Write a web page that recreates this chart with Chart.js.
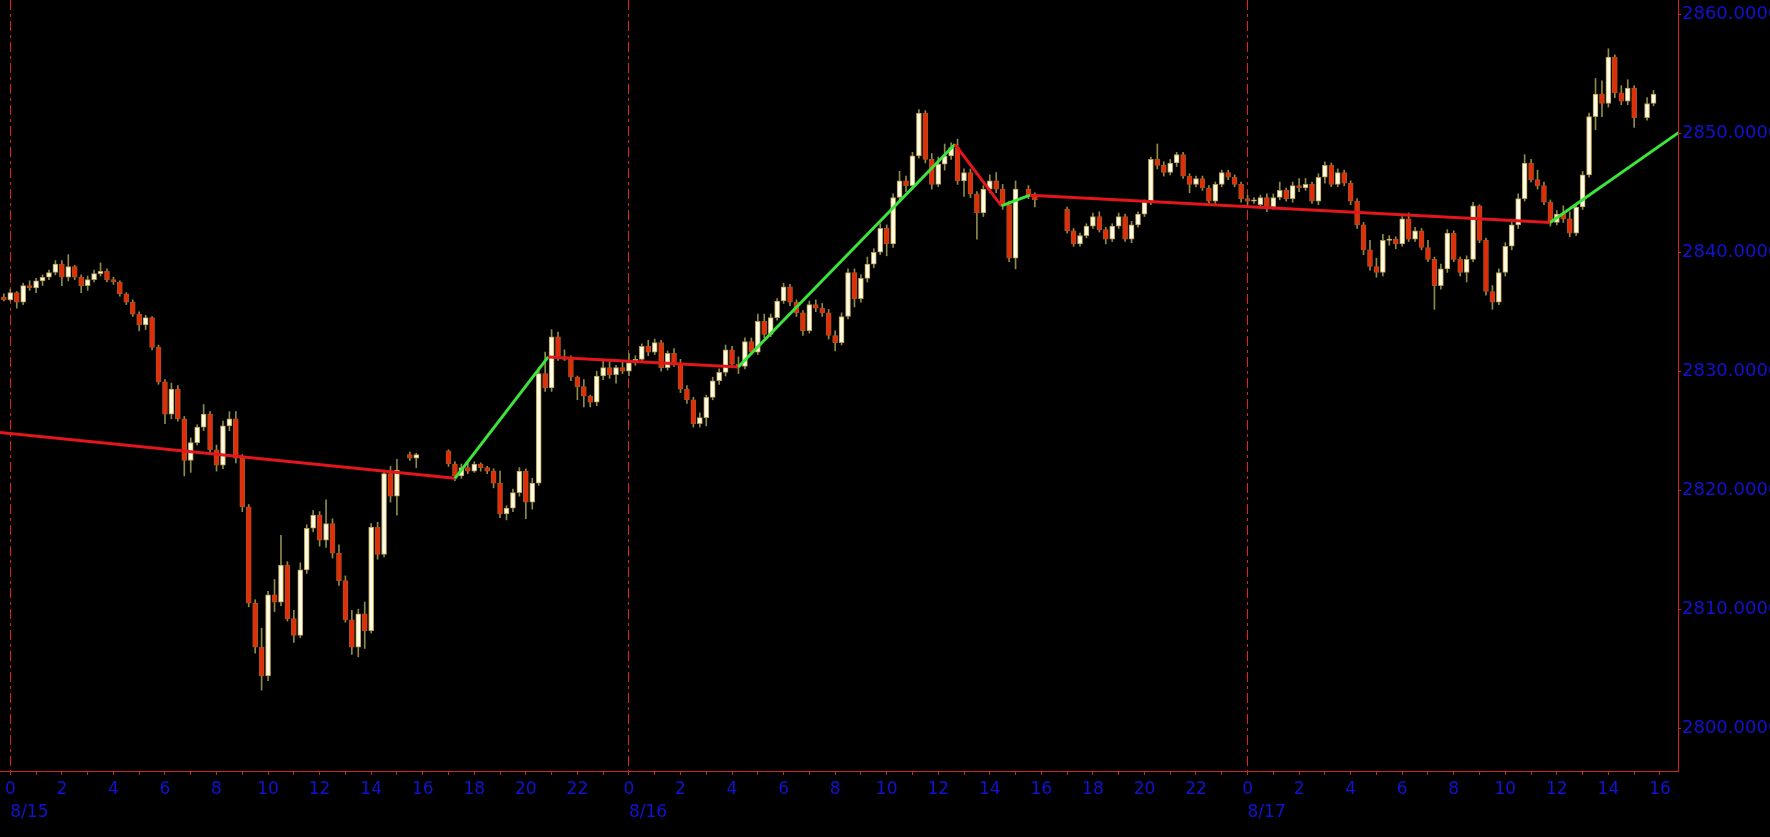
<!DOCTYPE html>
<html>
<head>
<meta charset="utf-8">
<title>Price 8/15 - 8/17</title>
<script src="https://cdn.jsdelivr.net/npm/chart.js@4.4.1/dist/chart.umd.min.js"></script>
<style>
    html, body { margin: 0; padding: 0; background: #000; }
    #wrap { width: 1770px; height: 837px; position: relative; }
</style>
</head>
<body>
<div id="wrap"><canvas id="priceChart"></canvas></div>
<script>
// Bars are 15 minutes, each row [open, high, low, close]
// Session starts are hours counted from 8/15 00:00
const sessionStarts = [-0.5, 15.5, 17, 39.5, 41, 63.5];

const aug15Bars = [
    [2836.0, 2836.4, 2835.8, 2836.2], [2836.2, 2836.5, 2835.9, 2836.0],
    // 0:00
    [2836.0, 2836.9, 2835.9, 2836.6], [2836.6, 2836.7, 2835.3, 2835.8], [2835.8, 2837.4, 2835.6, 2837.2], [2837.2, 2837.6, 2836.8, 2837.0],
    [2837.0, 2837.8, 2836.6, 2837.6], [2837.6, 2838.1, 2837.2, 2837.9], [2837.9, 2838.5, 2837.7, 2838.3], [2838.3, 2839.3, 2838.1, 2839.0],
    // 2:00
    [2839.0, 2839.3, 2837.2, 2837.9], [2837.9, 2839.8, 2837.6, 2838.8], [2838.8, 2838.9, 2837.7, 2837.9], [2837.9, 2838.1, 2836.6, 2837.2],
    [2837.2, 2838.0, 2836.8, 2837.7], [2837.7, 2838.5, 2837.5, 2838.2], [2838.2, 2839.1, 2838.0, 2838.4], [2838.4, 2838.6, 2837.5, 2837.7],
    // 4:00
    [2837.7, 2837.9, 2837.3, 2837.5], [2837.5, 2837.6, 2836.3, 2836.5], [2836.5, 2836.6, 2835.6, 2835.8], [2835.8, 2836.0, 2834.6, 2834.8],
    [2834.8, 2835.0, 2833.4, 2833.9], [2833.9, 2834.7, 2833.5, 2834.5], [2834.5, 2834.6, 2831.8, 2832.0], [2832.0, 2832.2, 2828.9, 2829.1],
    // 6:00
    [2829.1, 2829.3, 2825.6, 2826.4], [2826.4, 2829.0, 2826.0, 2828.5], [2828.5, 2828.8, 2825.8, 2826.0], [2826.0, 2826.2, 2821.2, 2822.5],
    [2822.5, 2824.4, 2821.5, 2824.0], [2824.0, 2825.5, 2823.8, 2825.3], [2825.3, 2827.2, 2825.0, 2826.4], [2826.4, 2826.6, 2823.0, 2823.4],
    // 8:00
    [2823.4, 2823.8, 2821.6, 2822.1], [2822.1, 2825.8, 2821.8, 2825.4], [2825.4, 2826.6, 2825.0, 2826.0], [2826.0, 2826.6, 2822.3, 2822.7],
    [2822.7, 2823.0, 2818.2, 2818.6], [2818.6, 2818.8, 2810.2, 2810.5], [2810.5, 2810.8, 2806.3, 2806.8], [2806.8, 2808.4, 2803.2, 2804.4],
    // 10:00
    [2804.4, 2811.5, 2804.0, 2811.2], [2811.2, 2812.5, 2809.8, 2810.6], [2810.6, 2816.2, 2810.3, 2813.7], [2813.7, 2814.0, 2809.0, 2809.2],
    [2809.2, 2809.9, 2807.2, 2807.8], [2807.8, 2813.9, 2807.6, 2813.3], [2813.3, 2817.1, 2813.0, 2816.8], [2816.8, 2818.3, 2816.5, 2817.9],
    // 12:00
    [2817.9, 2818.2, 2815.3, 2815.8], [2815.8, 2819.2, 2815.2, 2817.2], [2817.2, 2817.6, 2814.3, 2814.7], [2814.7, 2815.4, 2812.0, 2812.4],
    [2812.4, 2812.8, 2808.9, 2809.1], [2809.1, 2809.9, 2806.2, 2806.8], [2806.8, 2810.0, 2806.0, 2809.6], [2809.6, 2810.6, 2806.7, 2808.2],
    // 14:00
    [2808.2, 2817.2, 2808.0, 2816.9], [2816.9, 2817.3, 2814.2, 2814.6], [2814.6, 2821.7, 2814.4, 2821.4], [2821.4, 2822.0, 2819.0, 2819.5],
    [2819.5, 2822.6, 2817.9, 2821.7]
];
const aug15Late = [
    [2823.0, 2823.2, 2822.5, 2822.7], [2822.7, 2823.1, 2821.9, 2823.0]
];

const aug16Bars = [
    // 8/15 17:00
    [2823.3, 2823.4, 2822.0, 2822.2], [2822.2, 2822.4, 2820.8, 2821.2], [2821.2, 2822.2, 2821.0, 2821.9], [2821.9, 2822.3, 2821.4, 2821.6],
    [2821.6, 2822.4, 2821.5, 2822.2], [2822.2, 2822.3, 2821.6, 2821.9], [2821.9, 2822.0, 2821.4, 2821.6], [2821.6, 2821.8, 2820.2, 2820.6],
    // 19:00
    [2820.6, 2821.6, 2817.7, 2818.0], [2818.0, 2818.7, 2817.5, 2818.5], [2818.5, 2820.1, 2818.2, 2819.8], [2819.8, 2821.9, 2819.5, 2821.6],
    [2821.6, 2821.8, 2817.6, 2819.0], [2819.0, 2821.0, 2818.4, 2820.6], [2820.6, 2830.3, 2820.4, 2829.8], [2829.8, 2831.6, 2828.3, 2828.6],
    // 21:00
    [2828.6, 2833.5, 2828.3, 2832.9], [2832.9, 2833.3, 2830.9, 2831.2], [2831.2, 2831.8, 2830.9, 2831.0], [2831.0, 2831.3, 2829.2, 2829.5],
    [2829.5, 2829.6, 2827.6, 2828.7], [2828.7, 2829.3, 2827.0, 2827.9], [2827.9, 2828.0, 2827.0, 2827.4], [2827.4, 2830.0, 2827.1, 2829.6],
    // 23:00
    [2829.6, 2831.0, 2829.3, 2830.3], [2830.3, 2830.8, 2829.4, 2829.7], [2829.7, 2830.5, 2829.0, 2830.3], [2830.3, 2830.8, 2829.8, 2830.0],
    [2830.0, 2831.5, 2829.6, 2830.7], [2830.7, 2831.3, 2830.5, 2831.0], [2831.0, 2832.3, 2830.9, 2832.1], [2832.1, 2832.6, 2831.3, 2831.6],
    // 8/16 1:00
    [2831.6, 2832.7, 2831.4, 2832.4], [2832.4, 2832.6, 2830.0, 2830.3], [2830.3, 2831.7, 2830.1, 2831.5], [2831.5, 2831.9, 2830.4, 2830.6],
    [2830.6, 2831.0, 2828.2, 2828.5], [2828.5, 2828.8, 2827.3, 2827.6], [2827.6, 2827.8, 2825.3, 2825.6], [2825.6, 2826.5, 2825.3, 2826.1],
    // 3:00
    [2826.1, 2828.0, 2825.4, 2827.8], [2827.8, 2829.5, 2827.6, 2829.2], [2829.2, 2830.2, 2828.9, 2829.9], [2829.9, 2832.2, 2829.6, 2831.8],
    [2831.8, 2832.1, 2830.4, 2830.6], [2830.6, 2831.2, 2829.8, 2830.4], [2830.4, 2832.8, 2830.2, 2832.5], [2832.5, 2832.8, 2831.4, 2831.6],
    // 5:00
    [2831.6, 2834.8, 2831.4, 2834.2], [2834.2, 2834.8, 2832.8, 2833.1], [2833.1, 2834.8, 2832.9, 2834.5], [2834.5, 2836.1, 2834.3, 2835.9],
    [2835.9, 2837.4, 2835.7, 2837.1], [2837.1, 2837.3, 2835.5, 2835.8], [2835.8, 2836.0, 2834.6, 2834.9], [2834.9, 2835.1, 2833.0, 2833.4],
    // 7:00
    [2833.4, 2835.9, 2833.2, 2835.6], [2835.6, 2836.0, 2835.0, 2835.3], [2835.3, 2835.7, 2834.6, 2834.9], [2834.9, 2835.2, 2832.7, 2833.0],
    [2833.0, 2833.4, 2831.7, 2832.4], [2832.4, 2834.9, 2832.2, 2834.6], [2834.6, 2838.6, 2834.4, 2838.3], [2838.3, 2838.6, 2835.4, 2836.1],
    // 9:00
    [2836.1, 2838.1, 2835.8, 2837.8], [2837.8, 2839.6, 2837.5, 2839.0], [2839.0, 2840.3, 2838.7, 2840.0], [2840.0, 2842.4, 2839.8, 2842.0],
    [2842.0, 2842.3, 2839.7, 2840.7], [2840.7, 2844.9, 2840.4, 2844.6], [2844.6, 2846.8, 2844.3, 2846.0], [2846.0, 2846.4, 2845.1, 2845.6],
    // 11:00
    [2845.6, 2848.4, 2845.3, 2848.1], [2848.1, 2852.0, 2847.9, 2851.7], [2851.7, 2851.9, 2847.5, 2847.8], [2847.8, 2848.3, 2845.3, 2845.7],
    [2845.7, 2848.0, 2845.5, 2847.4], [2847.4, 2849.1, 2846.9, 2848.1], [2848.1, 2849.2, 2847.8, 2848.8], [2848.8, 2849.5, 2845.7, 2846.0],
    // 13:00
    [2846.0, 2847.0, 2844.7, 2846.7], [2846.7, 2847.0, 2844.6, 2844.9], [2844.9, 2845.1, 2841.1, 2843.3], [2843.3, 2845.6, 2843.0, 2845.3],
    [2845.3, 2846.5, 2845.0, 2846.0], [2846.0, 2846.7, 2845.0, 2845.3], [2845.3, 2845.7, 2843.6, 2844.0], [2844.0, 2844.3, 2839.2, 2839.5],
    // 15:00
    [2839.5, 2846.0, 2838.6, 2845.3]
];
const aug16Late = [
    [2845.3, 2845.6, 2844.5, 2844.8], [2844.8, 2845.0, 2843.8, 2844.4]
];

const aug17Bars = [
    // 8/16 17:00
    [2843.6, 2843.8, 2841.6, 2841.8], [2841.8, 2842.0, 2840.5, 2840.7], [2840.7, 2841.6, 2840.5, 2841.4], [2841.4, 2842.4, 2841.2, 2842.2],
    [2842.2, 2843.3, 2842.0, 2843.0], [2843.0, 2843.4, 2841.7, 2841.9], [2841.9, 2842.1, 2840.7, 2841.1], [2841.1, 2842.4, 2840.9, 2842.2],
    // 19:00
    [2842.2, 2843.3, 2842.0, 2843.0], [2843.0, 2843.2, 2840.9, 2841.1], [2841.1, 2842.6, 2840.8, 2842.3], [2842.3, 2843.4, 2842.1, 2843.2],
    [2843.2, 2844.4, 2843.0, 2844.2], [2844.2, 2848.0, 2844.0, 2847.8], [2847.8, 2849.1, 2847.0, 2847.3], [2847.3, 2847.6, 2846.4, 2846.7],
    // 21:00
    [2846.7, 2847.8, 2846.5, 2847.5], [2847.5, 2848.4, 2847.2, 2848.2], [2848.2, 2848.4, 2846.2, 2846.4], [2846.4, 2846.6, 2845.0, 2845.7],
    [2845.7, 2846.4, 2845.5, 2846.2], [2846.2, 2846.4, 2845.2, 2845.4], [2845.4, 2845.6, 2844.0, 2844.3], [2844.3, 2845.9, 2844.1, 2845.7],
    // 23:00
    [2845.7, 2846.9, 2845.5, 2846.7], [2846.7, 2846.9, 2846.1, 2846.3], [2846.3, 2846.5, 2845.5, 2845.7], [2845.7, 2845.9, 2844.2, 2844.5],
    [2844.5, 2844.8, 2844.0, 2844.3], [2844.3, 2844.6, 2844.1, 2844.4], [2844.0, 2844.8, 2843.7, 2844.6], [2844.6, 2844.9, 2843.4, 2843.8],
    // 8/17 1:00
    [2843.8, 2844.9, 2843.6, 2844.6], [2844.6, 2845.9, 2844.4, 2845.2], [2845.2, 2845.4, 2844.3, 2844.5], [2844.5, 2845.9, 2844.2, 2845.6],
    [2845.6, 2846.2, 2845.1, 2845.4], [2845.4, 2846.2, 2845.2, 2845.7], [2845.7, 2845.9, 2844.1, 2844.3], [2844.3, 2846.6, 2844.0, 2846.3],
    // 3:00
    [2846.3, 2847.6, 2845.8, 2847.3], [2847.3, 2847.5, 2845.5, 2845.7], [2845.7, 2847.0, 2845.5, 2846.7], [2846.7, 2846.9, 2845.6, 2845.8],
    [2845.8, 2846.0, 2844.0, 2844.3], [2844.3, 2844.5, 2842.0, 2842.3], [2842.3, 2842.5, 2839.8, 2840.2], [2840.2, 2841.0, 2838.5, 2838.8],
    // 5:00
    [2838.8, 2839.5, 2837.9, 2838.3], [2838.3, 2841.5, 2838.0, 2841.0], [2841.0, 2841.4, 2840.6, 2841.1], [2841.1, 2841.3, 2840.3, 2840.7],
    [2840.7, 2843.0, 2840.5, 2842.8], [2842.8, 2843.3, 2840.9, 2841.1], [2841.1, 2842.1, 2840.9, 2841.8], [2841.8, 2842.0, 2840.2, 2840.4],
    // 7:00
    [2840.4, 2841.0, 2839.2, 2839.4], [2839.4, 2839.6, 2835.2, 2837.2], [2837.2, 2839.0, 2836.9, 2838.6], [2838.6, 2841.9, 2838.3, 2841.6],
    [2841.6, 2841.8, 2839.2, 2839.4], [2839.4, 2839.6, 2838.0, 2838.3], [2838.3, 2839.7, 2837.5, 2839.4], [2839.4, 2844.2, 2839.2, 2843.9],
    // 9:00
    [2843.9, 2844.0, 2840.8, 2841.0], [2841.0, 2841.2, 2836.4, 2836.7], [2836.7, 2837.2, 2835.2, 2835.8], [2835.8, 2838.6, 2835.6, 2838.3],
    [2838.3, 2840.8, 2838.0, 2840.5], [2840.5, 2842.6, 2840.2, 2842.3], [2842.3, 2844.9, 2842.0, 2844.5], [2844.5, 2848.2, 2844.3, 2847.5],
    // 11:00
    [2847.5, 2847.8, 2845.9, 2846.1], [2846.1, 2846.9, 2845.3, 2845.6], [2845.6, 2845.9, 2844.0, 2844.2], [2844.2, 2844.4, 2842.2, 2842.5],
    [2842.5, 2843.5, 2842.3, 2843.2], [2843.2, 2843.9, 2842.5, 2842.8], [2842.8, 2843.4, 2841.3, 2841.6], [2841.6, 2844.0, 2841.4, 2843.8],
    // 13:00
    [2843.8, 2846.8, 2843.6, 2846.5], [2846.5, 2851.7, 2846.3, 2851.4], [2851.4, 2854.6, 2850.3, 2853.3], [2853.3, 2854.4, 2851.4, 2852.5],
    [2852.5, 2857.1, 2852.2, 2856.4], [2856.4, 2856.6, 2853.0, 2853.4], [2853.4, 2854.0, 2852.4, 2852.7], [2852.7, 2854.5, 2852.4, 2853.8],
    // 15:00
    [2853.8, 2854.0, 2850.5, 2851.3]
];
const aug17Late = [
    [2851.3, 2853.0, 2851.1, 2852.5], [2852.5, 2853.6, 2852.3, 2853.3]
];

// Swing lines drawn over the bars
const trendHours = [-0.4, 17.25, 20.87, 28.24, 36.65, 38.45, 39.56, 59.74, 64.75];
const trendPrices = [2824.85, 2821.0, 2831.2, 2830.36, 2849.07, 2843.9, 2844.8, 2842.5, 2850.1];

const dayLabels = ['8/15', '8/16', '8/17'];
const hourMin = -0.4, hourMax = 64.7;
const priceMin = 2796.4, priceMax = 2861.2;

const axisRed = '#d22424';
const gridRed = '#e02222';
const labelBlue = '#1212d2';
const upFill = '#fffbe4', upEdge = '#b89c48';
const downFill = '#e42c0c', downEdge = '#a85418';
const wickColor = '#8c8a4c';

// Build bar data from the sessions
const sessions = [aug15Bars, aug15Late, aug16Bars, aug16Late, aug17Bars, aug17Late];
const barHours = 15 / 60;
const bodies = [];
const wicks = [];
sessions.forEach((bars, s) => {
    bars.forEach((b, i) => {
        const x = sessionStarts[s] + i * barHours;
        bodies.push({ x: x, y: [b[0], b[3]] });
        wicks.push({ x: x, y: [b[2], b[1]] });
    });
});
const trendData = trendHours.map((h, i) => ({ x: h, y: trendPrices[i] }));

const isUp = (ctx) => ctx.raw && ctx.raw.y[1] >= ctx.raw.y[0];

// keep the plot area flush with the canvas edges
const noEdgePadding = (scale) => {
    scale.paddingTop = 0;
    scale.paddingBottom = 0;
    scale.paddingLeft = 0;
    scale.paddingRight = 0;
};

Chart.defaults.font.family = "'DejaVu Sans', sans-serif";
Chart.defaults.font.size = 17;
Chart.defaults.color = labelBlue;

const ctx = document.getElementById('priceChart').getContext('2d');
const priceChart = new Chart(ctx, {
    type: 'bar',
    data: {
        datasets: [
            {
                type: 'line',
                data: trendData,
                borderWidth: 3,
                pointRadius: 0,
                tension: 0,
                segment: {
                    borderColor: c => c.p1.parsed.y >= c.p0.parsed.y ? '#3ce43c' : '#e2161c'
                },
                order: 1
            },
            {
                data: bodies,
                backgroundColor: c => isUp(c) ? upFill : downFill,
                borderColor: c => isUp(c) ? upEdge : downEdge,
                borderWidth: 1,
                borderSkipped: false,
                barThickness: 5,
                grouped: false,
                order: 2
            },
            {
                data: wicks,
                backgroundColor: wickColor,
                borderWidth: 0,
                barThickness: 1,
                grouped: false,
                order: 3
            }
        ]
    },
    options: {
        responsive: true,
        maintainAspectRatio: false,
        animation: false,
        devicePixelRatio: 1,
        layout: { padding: 0 },
        plugins: {
            legend: { display: false },
            tooltip: { enabled: false }
        },
        scales: {
            x: {
                type: 'linear',
                position: 'bottom',
                min: hourMin,
                max: hourMax,
                offset: false,
                grid: {
                    offset: false,
                    color: c => (c.tick && c.tick.value % 24 === 0) ? gridRed : 'rgba(0,0,0,0)',
                    lineWidth: 1,
                    tickColor: axisRed,
                    tickLength: 4
                },
                border: { color: axisRed, width: 1, dash: [10, 4, 3, 4] },
                ticks: {
                    stepSize: 1,
                    includeBounds: false,
                    autoSkip: false,
                    maxRotation: 0,
                    padding: 4,
                    color: labelBlue,
                    callback: v => (v % 2 === 0) ? String(((v % 24) + 24) % 24) : ''
                },
                afterFit: scale => { noEdgePadding(scale); scale.height = 28; }
            },
            x2: {
                type: 'linear',
                axis: 'x',
                position: 'bottom',
                min: hourMin,
                max: hourMax,
                offset: false,
                grid: { display: false, drawTicks: false },
                border: { display: false },
                ticks: {
                    stepSize: 24,
                    includeBounds: false,
                    autoSkip: false,
                    maxRotation: 0,
                    align: 'start',
                    padding: 3,
                    color: labelBlue,
                    callback: v => dayLabels[v / 24] || ''
                },
                afterFit: scale => { noEdgePadding(scale); scale.height = 38; }
            },
            y: {
                type: 'linear',
                position: 'right',
                min: priceMin,
                max: priceMax,
                beginAtZero: false,
                grid: {
                    drawOnChartArea: false,
                    color: axisRed,
                    tickColor: axisRed,
                    tickLength: 3
                },
                border: { color: axisRed, width: 1 },
                ticks: {
                    stepSize: 10,
                    includeBounds: false,
                    padding: 1,
                    color: labelBlue,
                    font: { size: 18 },
                    callback: v => v.toFixed(4)
                },
                afterFit: scale => { noEdgePadding(scale); scale.width = 92; }
            }
        }
    }
});
</script>
</body>
</html>
